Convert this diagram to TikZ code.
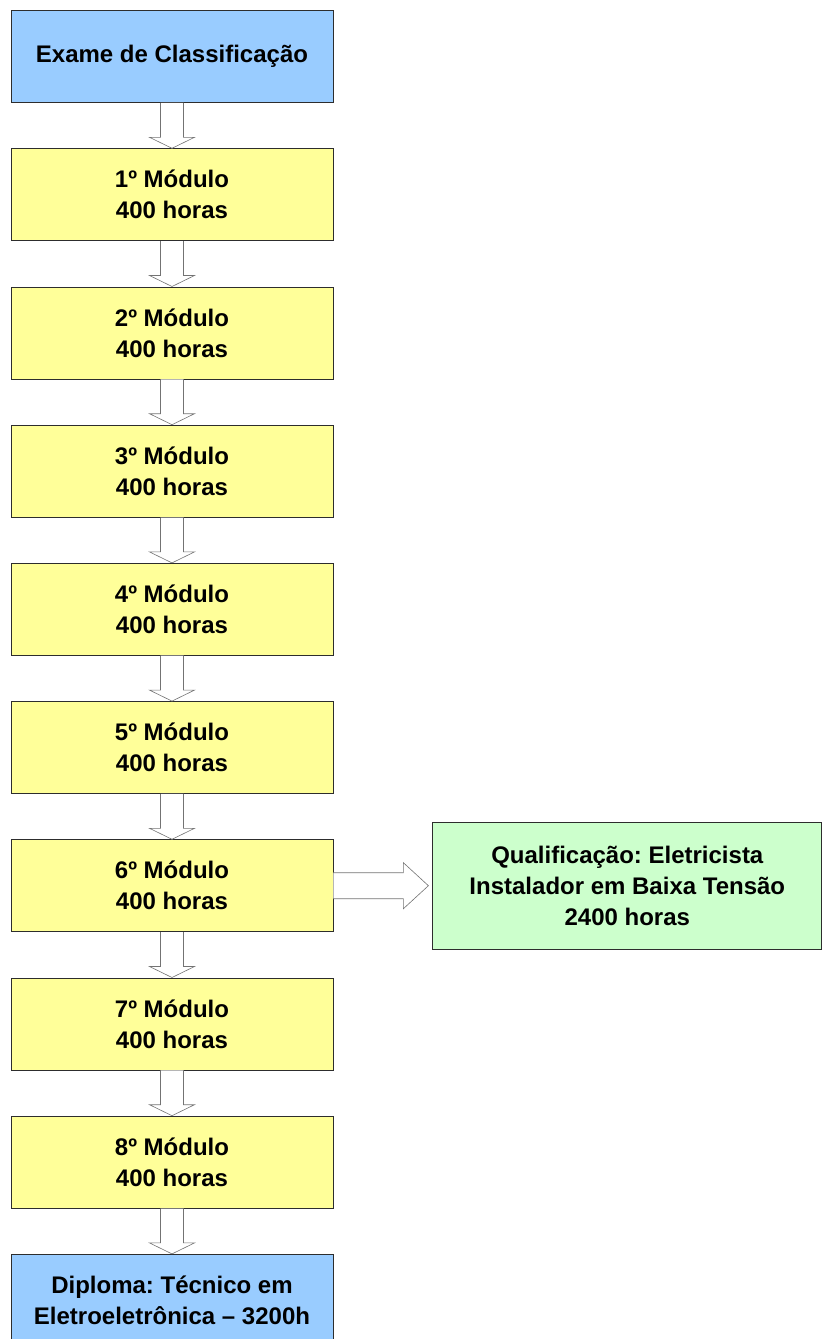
\documentclass[tikz,border=0pt]{standalone}
\usepackage{fontspec}
\setmainfont{Liberation Sans}
\frenchspacing
\usetikzlibrary{positioning,calc}
\definecolor{flowBlue}{RGB}{153,204,255}
\definecolor{flowYellow}{RGB}{255,255,153}
\definecolor{flowGreen}{RGB}{204,255,204}
\definecolor{flowLine}{RGB}{45,45,45}
\definecolor{flowArrow}{RGB}{115,115,115}
\tikzset{
  flowbox/.style={
    draw=flowLine,
    line width=0.8pt,
    align=center,
    minimum width=322pt,
    minimum height=92pt,
    inner sep=0pt,
    font=\fontsize{24}{31}\selectfont\bfseries
  },
  modbox/.style={
    flowbox,
    fill=flowYellow
  },
  endbox/.style={
    flowbox,
    fill=flowBlue
  },
  qualbox/.style={
    flowbox,
    fill=flowGreen,
    minimum width=389pt,
    minimum height=127pt
  },
  blockarrow/.style={
    draw=flowArrow,
    fill=white,
    line width=0.6pt,
    line join=miter
  }
}
% hollow arrow between two stacked boxes
\newcommand{\downblock}[2]{%
  \draw[blockarrow] ($(#1.south)+(-11.5pt,0pt)$) -- ($(#2.north)+(-11.5pt,11pt)$)
    -- ($(#2.north)+(-22.5pt,11pt)$) -- (#2.north) -- ($(#2.north)+(22.5pt,11pt)$)
    -- ($(#2.north)+(11.5pt,11pt)$) -- ($(#1.south)+(11.5pt,0pt)$);}

\begin{document}
\begin{tikzpicture}[node distance=45.4pt and 99pt]
  \useasboundingbox (0pt,0pt) rectangle (822pt,-1339pt);

  \node[endbox] (exam) at (172pt,-56.5pt) {Exame de Classificação};
  \node[modbox, below=of exam] (mod1) {1º Módulo\\400 horas};
  \node[modbox, below=of mod1] (mod2) {2º Módulo\\400 horas};
  \node[modbox, below=of mod2] (mod3) {3º Módulo\\400 horas};
  \node[modbox, below=of mod3] (mod4) {4º Módulo\\400 horas};
  \node[modbox, below=of mod4] (mod5) {5º Módulo\\400 horas};
  \node[modbox, below=of mod5] (mod6) {6º Módulo\\400 horas};
  \node[modbox, below=of mod6] (mod7) {7º Módulo\\400 horas};
  \node[modbox, below=of mod7] (mod8) {8º Módulo\\400 horas};
  \node[endbox, below=of mod8] (diploma) {Diploma: Técnico em\\Eletroeletrônica – 3200h};
  \node[qualbox, right=of mod6] (qual)
    {Qualificação: Eletricista\\Instalador em Baixa Tensão\\2400 horas};

  \downblock{exam}{mod1}
  \downblock{mod1}{mod2}
  \downblock{mod2}{mod3}
  \downblock{mod3}{mod4}
  \downblock{mod4}{mod5}
  \downblock{mod5}{mod6}
  \downblock{mod6}{mod7}
  \downblock{mod7}{mod8}
  \downblock{mod8}{diploma}

  \draw[blockarrow] ($(mod6.east)+(0pt,13pt)$) -- ($(qual.west)+(-29pt,13pt)$)
    -- ($(qual.west)+(-29pt,23pt)$) -- ($(qual.west)+(-4pt,0pt)$)
    -- ($(qual.west)+(-29pt,-23pt)$) -- ($(qual.west)+(-29pt,-13pt)$)
    -- ($(mod6.east)+(0pt,-13pt)$);
\end{tikzpicture}
\end{document}
